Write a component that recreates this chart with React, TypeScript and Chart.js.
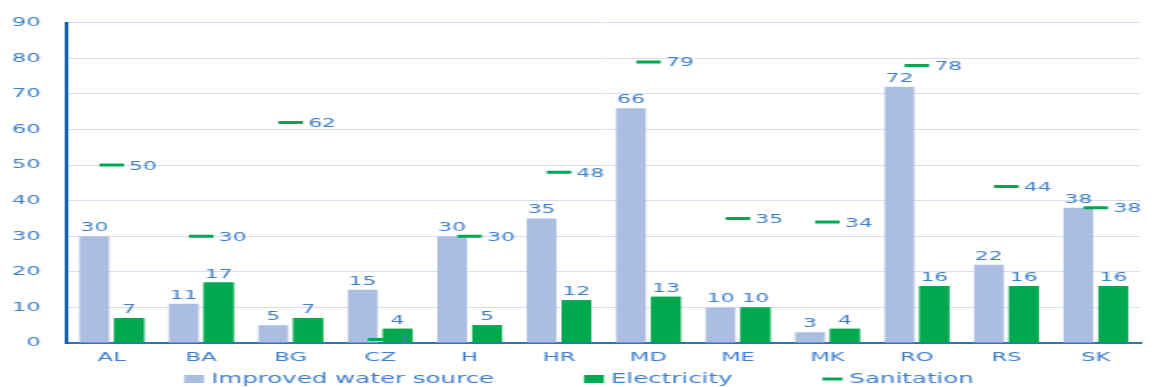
import React, { useEffect, useRef } from 'react';
import { Chart, registerables } from 'chart.js';

Chart.register(...registerables);

// ---- data ----
const categories = ['AL', 'BA', 'BG', 'CZ', 'H', 'HR', 'MD', 'ME', 'MK', 'RO', 'RS', 'SK'];
const waterValues = [30, 11, 5, 15, 30, 35, 66, 10, 3, 72, 22, 38];
const electricityValues = [7, 17, 7, 4, 5, 12, 13, 10, 4, 16, 16, 16];
const sanitationValues = [50, 30, 62, 1, 30, 48, 79, 35, 34, 78, 44, 38];
const seriesNames = ['Improved water source', 'Electricity', 'Sanitation'];
const yMin = 0;
const yMax = 90;
const yStep = 10;

// ---- look ----
const PAGE_W = 1158;
const PAGE_H = 387;
const CANVAS_W = 662;
const STRETCH = PAGE_W / CANVAS_W;
const FONT = '"DejaVu Sans", Verdana, sans-serif';
const TEXT_COLOR = '#3E7FCC';
const WATER_COLOR = '#ABBDE0';
const ELEC_COLOR = '#00A84F';
const SAN_COLOR = '#00A651';
const MARKER_R = 7;

const labelPlugin = {
  id: 'valueLabels',
  afterDatasetsDraw(chart: any) {
    // electricity bars sit above the sanitation markers
    const em = chart.getDatasetMeta(1);
    if (em && em.controller) em.controller.draw();

    const ctx = chart.ctx;
    ctx.save();
    ctx.fillStyle = TEXT_COLOR;
    ctx.font = `12.5px ${FONT}`;
    ctx.textAlign = 'center';
    ctx.textBaseline = 'alphabetic';
    [0, 1].forEach((di) => {
      const meta = chart.getDatasetMeta(di);
      meta.data.forEach((el: any, i: number) => {
        ctx.fillText(String(chart.data.datasets[di].data[i]), el.x, el.y - 5);
      });
    });
    const sm = chart.getDatasetMeta(2);
    ctx.textAlign = 'left';
    sm.data.forEach((el: any, i: number) => {
      ctx.fillText(String(chart.data.datasets[2].data[i]), el.x + MARKER_R + 3, el.y + 4.5);
    });
    ctx.restore();
  },
};

const legendPlugin = {
  id: 'bottomLegend',
  afterDraw(chart: any) {
    const ctx = chart.ctx;
    ctx.save();
    ctx.font = `14px ${FONT}`;
    const boxW = 11.4;
    const boxGap = 4;
    const itemGap = 51.4;
    const colors = [WATER_COLOR, ELEC_COLOR, SAN_COLOR];
    const widths = seriesNames.map((n) => boxW + boxGap + ctx.measureText(n).width);
    const total = widths.reduce((a, b) => a + b, 0) + itemGap * (seriesNames.length - 1);
    let x = (chart.width - total) / 2;
    const y = 379;
    seriesNames.forEach((name, i) => {
      ctx.fillStyle = colors[i];
      if (i < 2) ctx.fillRect(x, y - 4, boxW, 8);
      else ctx.fillRect(x, y - 1.5, boxW, 3);
      ctx.fillStyle = TEXT_COLOR;
      ctx.textAlign = 'left';
      ctx.textBaseline = 'middle';
      ctx.fillText(name, x + boxW + boxGap, y);
      x += widths[i] + itemGap;
    });
    ctx.restore();
  },
};

export default function App() {
  const ref = useRef<HTMLCanvasElement | null>(null);

  useEffect(() => {
    if (!ref.current) return;
    const chart = new Chart(ref.current, {
      type: 'bar',
      data: {
        labels: categories,
        datasets: [
          {
            label: seriesNames[0],
            data: waterValues,
            backgroundColor: WATER_COLOR,
            categoryPercentage: 0.78,
            barPercentage: 0.85,
            order: 0,
          },
          {
            label: seriesNames[1],
            data: electricityValues,
            backgroundColor: ELEC_COLOR,
            categoryPercentage: 0.78,
            barPercentage: 0.85,
            order: 0,
          },
          {
            type: 'line',
            label: seriesNames[2],
            data: sanitationValues,
            showLine: false,
            pointStyle: 'line',
            pointRadius: MARKER_R,
            pointHoverRadius: MARKER_R,
            pointBorderWidth: 3,
            borderColor: SAN_COLOR,
            backgroundColor: SAN_COLOR,
            pointBorderColor: SAN_COLOR,
            order: -1,
          } as any,
        ],
      },
      options: {
        responsive: false,
        animation: false,
        devicePixelRatio: 1,
        layout: { padding: { left: 0, right: 1.7, top: 16, bottom: 0 } },
        plugins: {
          legend: { display: false },
          tooltip: { enabled: false },
          title: { display: false },
        },
        scales: {
          x: {
            grid: { display: false, drawTicks: false },
            border: { display: true, color: '#2E75B6', width: 2 },
            ticks: { color: TEXT_COLOR, font: { family: FONT, size: 13 }, padding: 7 },
            afterFit(s: any) {
              s.height = 44;
            },
          },
          y: {
            min: yMin,
            max: yMax,
            ticks: { stepSize: yStep, color: TEXT_COLOR, font: { family: FONT, size: 13 }, padding: 15 },
            grid: { color: '#D6DEEF', lineWidth: 1, drawTicks: false },
            border: { display: true, color: '#0D5EAA', width: 2 },
            afterFit(s: any) {
              s.width = 38.3;
            },
          },
        },
      },
      plugins: [labelPlugin, legendPlugin],
    } as any);
    return () => chart.destroy();
  }, []);

  return (
    <div
      style={{
        position: 'fixed',
        left: 0,
        top: 0,
        width: PAGE_W,
        height: PAGE_H,
        overflow: 'hidden',
        background: '#fff',
      }}
    >
      <div
        style={{
          width: CANVAS_W,
          height: PAGE_H,
          transform: `scaleX(${STRETCH})`,
          transformOrigin: '0 0',
        }}
      >
        <canvas
          ref={ref}
          width={CANVAS_W}
          height={PAGE_H}
          style={{ width: CANVAS_W, height: PAGE_H, display: 'block' }}
        />
      </div>
    </div>
  );
}
